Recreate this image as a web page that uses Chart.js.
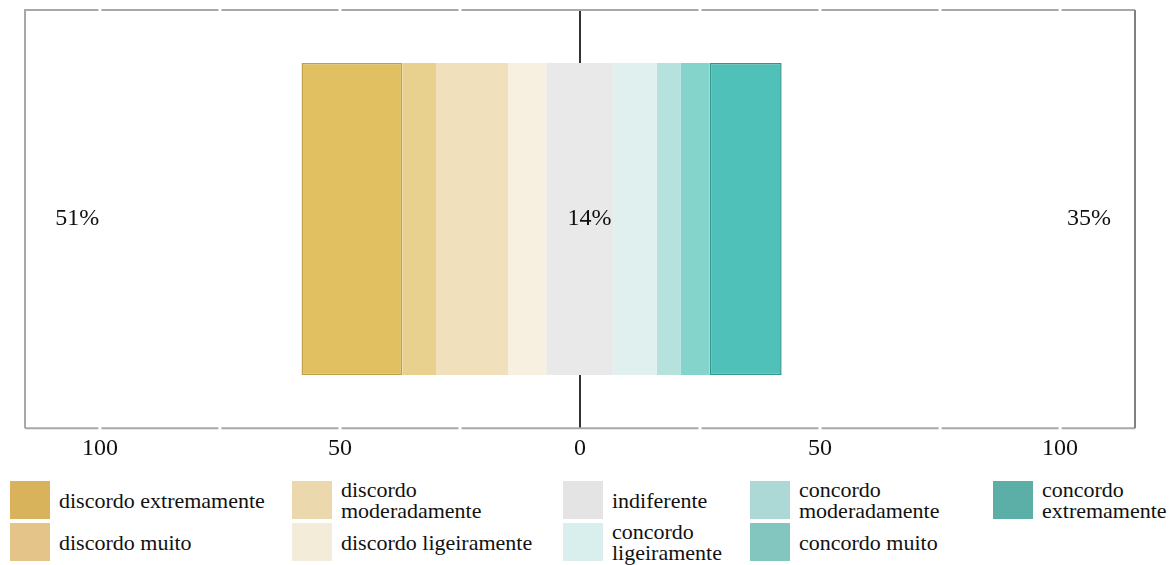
<!DOCTYPE html>
<html>
<head>
  <meta charset="UTF-8" />
  <title>Escala de concordancia</title>
  <script src="https://cdn.jsdelivr.net/npm/chart.js"></script>
  <style>
    html, body { margin: 0; padding: 0; background: #fff; }
    #wrap { position: relative; width: 1175px; height: 565px; overflow: hidden; font-family: 'Liberation Serif'; color: #111; }
    #chart { position: absolute; left: 0; top: 0; }
    .leg { position: absolute; display: flex; align-items: center; height: 38px; }
    .leg .sw { width: 40px; height: 38px; flex: none; }
    .leg .tx { margin-left: 9px; font-family: 'Liberation Serif'; font-size: 22px; line-height: 21px; white-space: nowrap; }
  </style>
</head>
<body>
<div id="wrap">
  <canvas id="chart" width="1175" height="470"></canvas>
  <div id="legend"></div>
</div>
<script>
  // respostas (%), da esquerda para a direita
  const categories = [
    "discordo extremamente", "discordo muito", "discordo moderadamente", "discordo ligeiramente",
    "indiferente",
    "concordo ligeiramente", "concordo moderadamente", "concordo muito", "concordo extremamente"
  ];
  const values = [21, 7, 15, 8, 14, 9, 5, 6, 15];
  const tickValues = [-100, -50, 0, 50, 100];

  const barColors = ["#e0c060", "#e8d08e", "#f0e1bc", "#f7efdf", "#e9e9e9", "#dff0ef", "#b6e2de", "#84d4cb", "#50c1b8"];
  const legendColors = ["#d8b35c", "#e4c488", "#ecd8ad", "#f3ecd9", "#e4e4e4", "#d9efed", "#acd8d5", "#83c6bf", "#5bafa7"];
  const wrapped = ["discordo moderadamente", "concordo ligeiramente", "concordo moderadamente", "concordo extremamente"];

  const discordo = values.slice(0, 4).reduce((a, b) => a + b, 0);
  const indif = values[4];
  const concordo = values.slice(5).reduce((a, b) => a + b, 0);

  // datasets: os negativos empilham a partir do zero para a esquerda
  const datasets = [];
  const mk = (i, v) => ({
    label: categories[i],
    data: [v],
    backgroundColor: barColors[i],
    borderColor: i === 0 ? "#c39f48" : i === 8 ? "#2f978d" : barColors[i],
    borderWidth: (i === 0 || i === 8) ? 1.5 : 0,
    borderSkipped: false
  });
  datasets.push(mk(4, -indif / 2));
  for (let i = 3; i >= 0; i--) datasets.push(mk(i, -values[i]));
  datasets.push(mk(4, indif / 2));
  for (let i = 5; i < 9; i++) datasets.push(mk(i, values[i]));

  const totals = [
    { x: -104.7, text: discordo + "%" },
    { x: 2, text: indif + "%" },
    { x: 106, text: concordo + "%" }
  ];

  const FONT = "'Liberation Serif'";

  const frame = {
    id: "frame",
    beforeDatasetsDraw(chart) {
      const { ctx, chartArea: a, scales: { x } } = chart;
      ctx.save();
      ctx.strokeStyle = "#333";
      ctx.lineWidth = 2;
      ctx.beginPath();
      ctx.moveTo(x.getPixelForValue(0), a.top);
      ctx.lineTo(x.getPixelForValue(0), a.bottom);
      ctx.stroke();
      ctx.restore();
    },
    afterDatasetsDraw(chart) {
      const { ctx, chartArea: a, scales: { x, y } } = chart;
      ctx.save();
      ctx.lineWidth = 2;
      ctx.strokeStyle = "#a8a8a8";
      ctx.beginPath();
      ctx.moveTo(a.left, a.bottom);
      ctx.lineTo(a.left, a.top);
      ctx.lineTo(a.right, a.top);
      ctx.moveTo(a.left, a.bottom);
      ctx.lineTo(a.right, a.bottom);
      ctx.stroke();
      ctx.strokeStyle = "#808080";
      ctx.beginPath();
      ctx.moveTo(a.right, a.top);
      ctx.lineTo(a.right, a.bottom);
      ctx.stroke();
      // pequenas falhas na moldura a cada 25
      ctx.fillStyle = "#fff";
      for (let v = -100; v <= 100; v += 25) {
        if (v === 0) continue;
        const px = x.getPixelForValue(v);
        ctx.fillRect(px - 1.5, a.top - 2, 3, 4);
        ctx.fillRect(px - 1.5, a.bottom - 2, 3, 4);
      }
      ctx.fillStyle = "#111";
      ctx.font = "24px " + FONT;
      ctx.textAlign = "center";
      ctx.textBaseline = "middle";
      const cy = y.getPixelForValue(0);
      totals.forEach(t => ctx.fillText(t.text, x.getPixelForValue(t.x), cy));
      ctx.restore();
    }
  };

  Chart.defaults.font.family = FONT;
  new Chart(document.getElementById("chart"), {
    type: "bar",
    data: { labels: [""], datasets },
    options: {
      indexAxis: "y",
      responsive: false,
      animation: false,
      layout: { padding: { left: 25, right: 40, top: 10, bottom: 1 } },
      plugins: { legend: { display: false }, tooltip: { enabled: false } },
      datasets: { bar: { barPercentage: 0.746, categoryPercentage: 1 } },
      scales: {
        x: {
          stacked: true,
          min: -115.6,
          max: 115.6,
          afterBuildTicks: s => { s.ticks = tickValues.map(v => ({ value: v })); },
          grid: { display: false, drawTicks: false },
          border: { display: false },
          ticks: {
            padding: 6,
            color: "#111",
            font: { size: 24, family: FONT },
            maxRotation: 0,
            callback: v => Math.abs(v)
          }
        },
        y: { stacked: true, display: false }
      }
    },
    plugins: [frame]
  });

  // legenda em colunas (duas linhas por coluna)
  const colX = [10, 292, 563, 750, 993];
  const rowY = [481, 523];
  const legend = document.getElementById("legend");
  categories.forEach((c, i) => {
    const col = Math.floor(i / 2), row = i % 2;
    const item = document.createElement("div");
    item.className = "leg";
    item.style.left = colX[col] + "px";
    item.style.top = rowY[row] + "px";
    const label = wrapped.includes(c) ? c.replace(" ", "<br>") : c;
    item.innerHTML = '<div class="sw" style="background:' + legendColors[i] + '"></div><div class="tx">' + label + "</div>";
    legend.appendChild(item);
  });
</script>
</body>
</html>
